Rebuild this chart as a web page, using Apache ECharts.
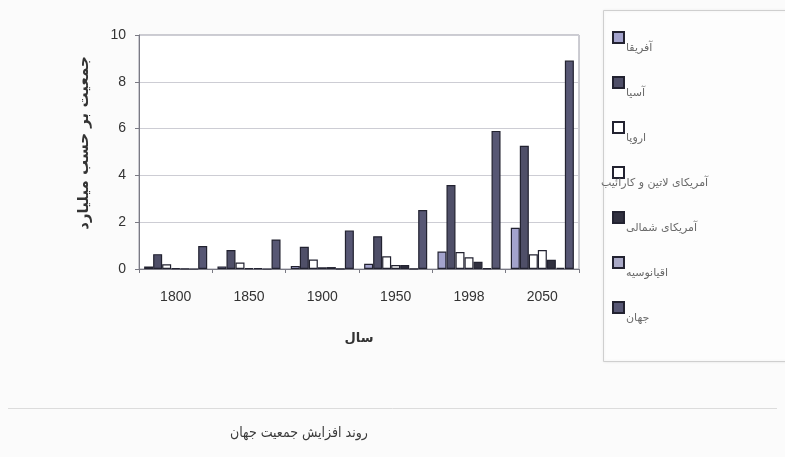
<!DOCTYPE html>
<html>
<head>
<meta charset="utf-8">
<script src="https://cdn.jsdelivr.net/npm/echarts@6/dist/echarts.min.js"></script>
<style>
  html, body { margin: 0; padding: 0; background: #fbfbfb; }
  #chart { width: 785px; height: 457px; }
</style>
</head>
<body>
<div id="chart"></div>
<script>
// Population by region, billions
const years = ['1800', '1850', '1900', '1950', '1998', '2050'];
const regionNames = ['آفریقا', 'آسیا', 'اروپا', 'آمریکای لاتین و کارائیب', 'آمریکای شمالی', 'اقیانوسیه', 'جهان'];
const africa       = [0.107, 0.111, 0.133, 0.221, 0.749, 1.766];
const asia         = [0.635, 0.809, 0.947, 1.402, 3.585, 5.268];
const europe       = [0.203, 0.276, 0.408, 0.547, 0.729, 0.628];
const latinAmerica = [0.024, 0.038, 0.074, 0.167, 0.504, 0.809];
const northAmerica = [0.007, 0.026, 0.082, 0.172, 0.305, 0.392];
const oceania      = [0.002, 0.002, 0.006, 0.013, 0.030, 0.046];
const world        = [0.978, 1.262, 1.650, 2.521, 5.901, 8.909];
const yTicks = [0, 2, 4, 6, 8, 10];

const regionValues = [africa, asia, europe, latinAmerica, northAmerica, oceania, world];
const regionColors = ['#a3a3cc', '#4f4f68', '#ffffff', '#ffffff', '#30303f', '#a9a9c6', '#575774'];

const persianFont = '"DejaVu Sans", sans-serif';
const persianCondensed = '"DejaVu Sans Condensed", "DejaVu Sans", sans-serif';
const latinFont = '"Liberation Sans", Arial, sans-serif';

// legend label sits under its swatch
const legendRich = padLeft => ({
  t: { fontFamily: persianFont, fontSize: 11, color: '#6a6a6a', padding: [22, 0, 0, padLeft] }
});

const chart = echarts.init(document.getElementById('chart'), null, { renderer: 'canvas' });

const option = {
  animation: false,
  backgroundColor: '#fbfbfb',
  title: {
    text: 'روند افزایش جمعیت جهان',
    left: 225,
    top: 421,
    textStyle: { fontFamily: persianCondensed, fontSize: 14, fontWeight: 'normal', color: '#3a3a3a' }
  },
  graphic: [
    {
      type: 'rect',
      shape: { x: 603.5, y: 10.5, width: 200, height: 351 },
      style: { fill: '#fdfdfd', stroke: '#cfcfcf', lineWidth: 1, shadowColor: 'rgba(0,0,0,0.08)', shadowBlur: 3 },
      z: -1
    },
    {
      type: 'line',
      shape: { x1: 8, y1: 408.5, x2: 777, y2: 408.5 },
      style: { stroke: '#dcdcdc', lineWidth: 1 },
      z: -1
    }
  ],
  grid: {
    left: 139, top: 35, width: 440, height: 234,
    show: true, borderColor: '#9a9aa6', borderWidth: 1, backgroundColor: '#ffffff'
  },
  legend: {
    orient: 'vertical',
    left: 601,
    top: 31,
    padding: 0,
    align: 'left',
    itemWidth: 11,
    itemHeight: 11,
    itemGap: 22,
    icon: 'rect',
    formatter: name => '{t|' + name + '}',
    textStyle: { fontFamily: persianFont, fontSize: 11, color: '#6a6a6a', rich: legendRich(-3) },
    data: regionNames.map((n, i) => i === 3
      ? { name: n, textStyle: { rich: legendRich(-28) } }
      : { name: n })
  },
  xAxis: {
    type: 'category',
    data: years,
    boundaryGap: true,
    name: 'سال',
    nameLocation: 'middle',
    nameGap: 63,
    nameTextStyle: { fontFamily: persianFont, fontSize: 13, fontWeight: 'bold', color: '#333' },
    axisLine: { lineStyle: { color: '#7a7a84', width: 1 } },
    axisTick: { show: true, length: 4, lineStyle: { color: '#7a7a84' } },
    axisLabel: { margin: 21, fontFamily: latinFont, fontSize: 14, color: '#333' }
  },
  yAxis: {
    type: 'value',
    min: yTicks[0],
    max: yTicks[yTicks.length - 1],
    interval: 2,
    name: 'جمعیت بر حسب میلیارد',
    nameLocation: 'middle',
    nameGap: 47,
    nameTextStyle: { fontFamily: persianFont, fontSize: 15, fontWeight: 'bold', color: '#333', padding: [0, 0, 0, 18] },
    axisLine: { show: true, lineStyle: { color: '#7a7a84', width: 1 } },
    axisTick: { show: true, length: 4, lineStyle: { color: '#7a7a84' } },
    axisLabel: { margin: 13, fontFamily: latinFont, fontSize: 14, color: '#333' },
    splitLine: { lineStyle: { color: '#cdcdd4', width: 1 } }
  },
  series: regionNames.map((name, i) => ({
    name: name,
    type: 'bar',
    data: regionValues[i],
    barGap: '0%',
    barCategoryGap: '14%',
    itemStyle: { color: regionColors[i], borderColor: '#222230', borderWidth: 1.2 }
  }))
};

chart.setOption(option);
</script>
</body>
</html>
